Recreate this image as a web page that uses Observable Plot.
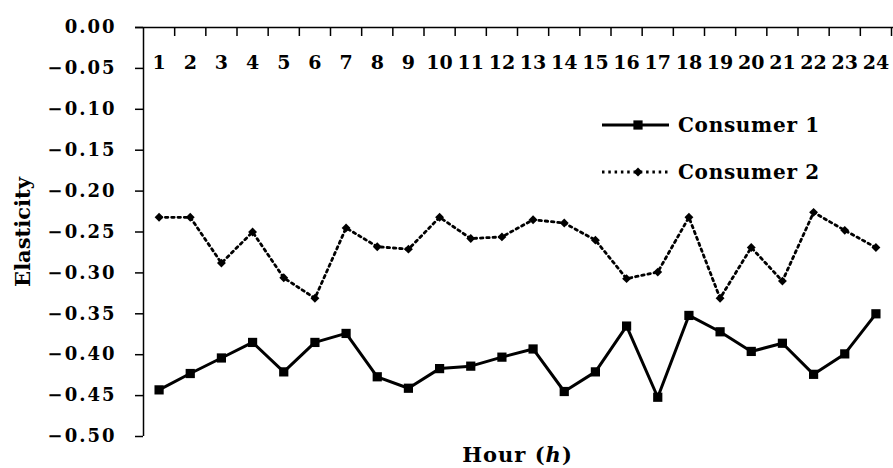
<!DOCTYPE html>
<html>
<head>
<meta charset="utf-8">
<script src="https://cdn.jsdelivr.net/npm/d3@7"></script>
<script src="https://cdn.jsdelivr.net/npm/@observablehq/plot@0.6"></script>
<style>
  body { margin: 0; background: #fff; }
  #wrap { position: relative; width: 893px; height: 468px; }
  .legend { position: absolute; left: 602px; top: 0; font: bold 20px "DejaVu Serif", serif; color: #000; letter-spacing: 0.7px; }
  .legend .row { position: absolute; left: 0; display: flex; align-items: center; height: 24px; white-space: nowrap; }
  .legend .row span { margin-left: 9px; }
</style>
</head>
<body>
<div id="wrap"></div>
<script>
// ---- data ----
const hours = [1, 2, 3, 4, 5, 6, 7, 8, 9, 10, 11, 12, 13, 14, 15, 16, 17, 18, 19, 20, 21, 22, 23, 24];
const consumer1 = [-0.443, -0.423, -0.404, -0.385, -0.421, -0.385, -0.374, -0.427, -0.441, -0.417, -0.414, -0.403,
                   -0.393, -0.445, -0.421, -0.365, -0.452, -0.352, -0.372, -0.396, -0.386, -0.424, -0.399, -0.350];
const consumer2 = [-0.232, -0.232, -0.288, -0.250, -0.306, -0.331, -0.245, -0.268, -0.271, -0.232, -0.258, -0.256,
                   -0.235, -0.239, -0.260, -0.307, -0.299, -0.232, -0.331, -0.269, -0.310, -0.226, -0.248, -0.269];
const seriesNames = ["Consumer 1", "Consumer 2"];
const yTicks = [0, -0.05, -0.10, -0.15, -0.20, -0.25, -0.30, -0.35, -0.40, -0.45, -0.50];
const xLabel = "Hour (h)";
const yLabel = "Elasticity";

// ---- derived tables ----
const rows1 = hours.map((h, i) => ({hour: h, value: consumer1[i]}));
const rows2 = hours.map((h, i) => ({hour: h, value: consumer2[i]}));
const xDomain = [hours[0] - 0.5, hours[hours.length - 1] + 0.5];
const boundaries = hours.map(h => h + 0.5);
const fmt = d3.format(".2f");

const W = 893, H = 468, mT = 27, mB = 32;
// top-axis tick length of 9px, expressed in y units
const tickLen = (yTicks[0] - yTicks[yTicks.length - 1]) * 9 / (H - mT - mB);

const chart = Plot.plot({
  width: W,
  height: H,
  marginLeft: 143,
  marginRight: 2,
  marginTop: mT,
  marginBottom: mB,
  style: {fontFamily: "'DejaVu Serif', serif", fontWeight: "bold", color: "#000", background: "#fff", overflow: "visible"},
  x: {type: "linear", domain: xDomain, axis: null},
  y: {domain: [yTicks[yTicks.length - 1], yTicks[0]], axis: null},
  marks: [
    Plot.axisY({ticks: yTicks, tickFormat: fmt, tickSize: 8, tickPadding: 19, fontSize: 18, label: null, strokeWidth: 1.5}),
    Plot.ruleY([yTicks[0]], {strokeWidth: 1.5, insetLeft: -8, insetRight: -2}),
    Plot.ruleX([xDomain[0]], {strokeWidth: 1.5}),
    // tick marks at hour boundaries hanging down from the top axis line
    Plot.ruleX(boundaries, {x: d => d, y1: yTicks[0], y2: yTicks[0] - tickLen, stroke: "#000", strokeWidth: 1.5}),
    Plot.text(hours, {x: d => d, frameAnchor: "top", lineAnchor: "middle", dy: 35, fontSize: 19, fontWeight: "bold", fill: "#000"}),
    Plot.line(rows2, {x: "hour", y: "value", stroke: "#000", strokeWidth: 2.8, strokeDasharray: "2.5,3.8"}),
    Plot.dot(rows2, {x: "hour", y: "value", symbol: "diamond2", r: 4, fill: "#000", stroke: "none"}),
    Plot.line(rows1, {x: "hour", y: "value", stroke: "#000", strokeWidth: 3}),
    Plot.dot(rows1, {x: "hour", y: "value", symbol: "square", r: 5.2, fill: "#000", stroke: "none"}),
    Plot.text([yLabel], {frameAnchor: "left", textAnchor: "middle", lineAnchor: "middle", rotate: -90, dx: -120, fontSize: 21, fontWeight: "bold", fill: "#000"}),
    Plot.text([xLabel], {frameAnchor: "bottom", textAnchor: "middle", lineAnchor: "middle", dy: 19, fontSize: 21, fontWeight: "bold", fill: "#000", className: "xlab"})
  ]
});

// wider spacing on y tick labels
d3.select(chart).selectAll("text").filter(function() {
  return /^[−-]?\d\.\d\d$/.test(this.textContent);
}).attr("letter-spacing", "2px");

// italic h in x label
d3.select(chart).selectAll(".xlab text").each(function() {
  const t = d3.select(this);
  const s = t.text();
  const i = s.indexOf("(h)");
  if (i >= 0) {
    t.text(null);
    t.attr("letter-spacing", "1px");
    t.append("tspan").text(s.slice(0, i + 1));
    t.append("tspan").attr("font-style", "italic").text("h");
    t.append("tspan").text(s.slice(i + 2));
  }
});

const wrap = document.getElementById("wrap");
wrap.appendChild(chart);

// legend
const legend = document.createElement("div");
legend.className = "legend";
const tops = [113, 160];
seriesNames.forEach((name, i) => {
  const row = document.createElement("div");
  row.className = "row";
  row.style.top = tops[i] + "px";
  const svgNS = "http://www.w3.org/2000/svg";
  const svg = document.createElementNS(svgNS, "svg");
  svg.setAttribute("width", 67); svg.setAttribute("height", 24);
  const line = document.createElementNS(svgNS, "line");
  line.setAttribute("x1", 0); line.setAttribute("x2", 67); line.setAttribute("y1", 12); line.setAttribute("y2", 12);
  line.setAttribute("stroke", "#000");
  if (i === 0) { line.setAttribute("stroke-width", 3); }
  else { line.setAttribute("stroke-width", 2.8); line.setAttribute("stroke-dasharray", "2.5,3.8"); }
  svg.appendChild(line);
  const sym = d3.symbol(i === 0 ? d3.symbolSquare : d3.symbolDiamond2, i === 0 ? Math.PI * 5.2 * 5.2 : Math.PI * 16)();
  const p = document.createElementNS(svgNS, "path");
  p.setAttribute("d", sym); p.setAttribute("transform", "translate(36,12)"); p.setAttribute("fill", "#000");
  svg.appendChild(p);
  row.appendChild(svg);
  const span = document.createElement("span");
  span.textContent = name;
  row.appendChild(span);
  legend.appendChild(row);
});
wrap.appendChild(legend);
</script>
</body>
</html>
